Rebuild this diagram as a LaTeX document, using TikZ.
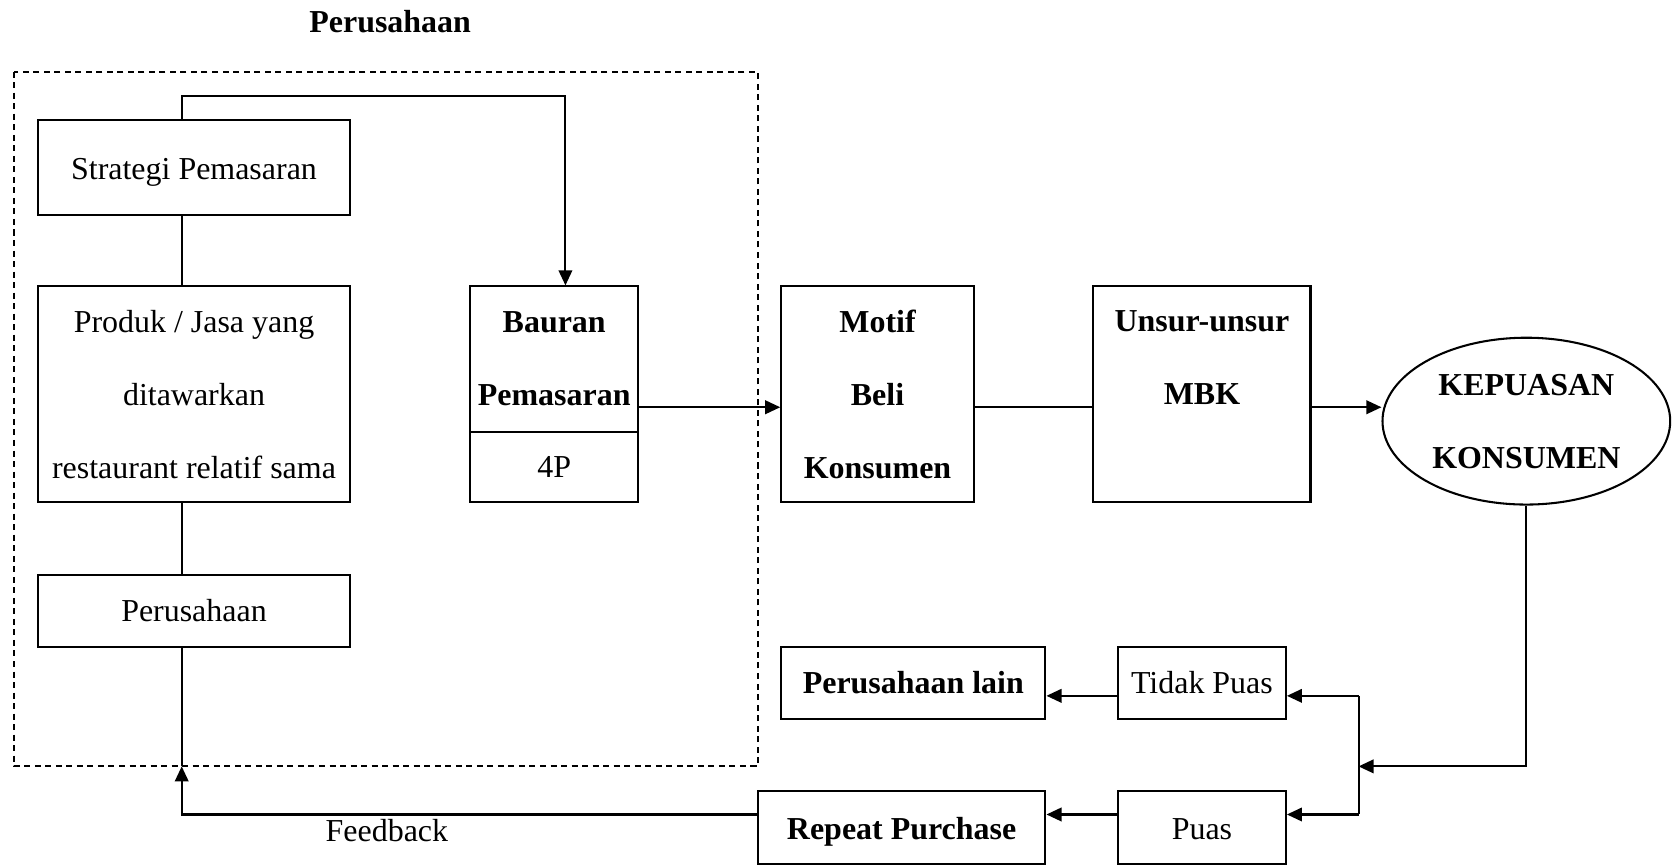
\documentclass[tikz,border=0pt]{standalone}
\usepackage{fontspec}
\setmainfont{Liberation Serif}
\usetikzlibrary{arrows.meta,shapes.geometric}

\begin{document}
\begin{tikzpicture}[x=0.01cm, y=-0.01cm,
    >={Triangle[length=4pt,width=3.6pt]},
    every node/.style={font=\fontsize{8.5}{19.4}\selectfont},
    kotak/.style={draw, line width=0.55pt, inner sep=0pt, align=center},
    tebal/.style={font=\fontsize{8.5}{19.4}\selectfont\bfseries},
    satu/.style={text height=6.5pt, text depth=0pt},
    garis/.style={line width=0.55pt},
]

\useasboundingbox (0,0) rectangle (1568,809);
\draw[garis, dash pattern=on 1.6pt off 1.2pt] (13,67) rectangle (709,717);
\node [tebal] (judul) at (365,20) {Perusahaan};

\node [kotak, satu, minimum width=2.91cm, minimum height=0.89cm] (strategi) at (181.5,156.5) {Strategi Pemasaran};
\node [kotak, minimum width=2.91cm, minimum height=2.02cm] (produk) at (181.5,369) {Produk / Jasa yang\\ditawarkan\\restaurant relatif sama};
\node [kotak, minimum width=2.91cm, minimum height=0.67cm] (perusahaan) at (181.5,571.5) {Perusahaan};
\node [kotak, tebal, minimum width=1.57cm, minimum height=1.36cm] (bauran) at (518.5,336) {Bauran\\Pemasaran};
\node [kotak, minimum width=1.57cm, minimum height=0.66cm] (4p) at (518.5,437) {4P};
\node [kotak, tebal, minimum width=1.80cm, minimum height=2.02cm] (motif) at (821,369) {Motif\\Beli\\Konsumen};
\node [kotak, tebal, minimum width=2.03cm, minimum height=2.02cm] (unsur) at (1124.5,369) {Unsur-unsur\\MBK\\\mbox{}};
\node [kotak, tebal, ellipse, minimum width=2.69cm, minimum height=1.56cm] (kepuasan) at (1428,394) {KEPUASAN\\KONSUMEN};
\node [kotak, tebal, minimum width=2.47cm, minimum height=0.68cm] (lain) at (854.5,639) {Perusahaan lain};
\node [kotak, minimum width=1.57cm, minimum height=0.68cm] (tidak) at (1124.5,639) {Tidak Puas};
\node [kotak, tebal, satu, minimum width=2.69cm, minimum height=0.68cm] (repeat) at (843.5,774) {Repeat Purchase};
\node [kotak, satu, minimum width=1.57cm, minimum height=0.68cm] (puas) at (1124.5,774) {Puas};

\coordinate (atas1) at (170,90);
\coordinate (atas2) at (529,90);
\coordinate (jalur) at (0,381);
\coordinate (fb1) at (170,762);
\coordinate (fb2) at (170,717);
\coordinate (cabang) at (1271,717);
\coordinate (c1) at (1271,651);
\coordinate (c2) at (1271,762);

\draw[garis, ->] (strategi.north -| atas1) -- (atas1) -- (atas2) -- (bauran.north -| atas2);
\draw[garis] (strategi.south -| atas1) -- (produk.north -| atas1);
\draw[garis] (produk.south -| atas1) -- (perusahaan.north -| atas1);
\draw[garis, ->] (bauran.east |- jalur) -- (motif.west |- jalur);
\draw[garis] (motif.east |- jalur) -- (unsur.west |- jalur);
\draw[garis, ->] (unsur.east |- jalur) -- (kepuasan.west |- jalur);
\draw[garis, ->] (kepuasan.south) |- (cabang);
\draw[garis] (c1) -- (c2);
\draw[garis, ->] (c1) -- (tidak.east |- c1);
\draw[garis, ->] (c2) -- (puas.east |- c2);
\draw[garis, ->] (tidak.west |- c1) -- (lain.east |- c1);
\draw[garis, ->] (puas.west |- c2) -- (repeat.east |- c2);
\draw[garis, ->] (repeat.west |- fb1) -- (fb1) -- (fb2);
\draw[garis] (fb2) -- (perusahaan.south -| fb2);
\node (feedback) at (362,777) {Feedback};

\end{tikzpicture}
\end{document}
